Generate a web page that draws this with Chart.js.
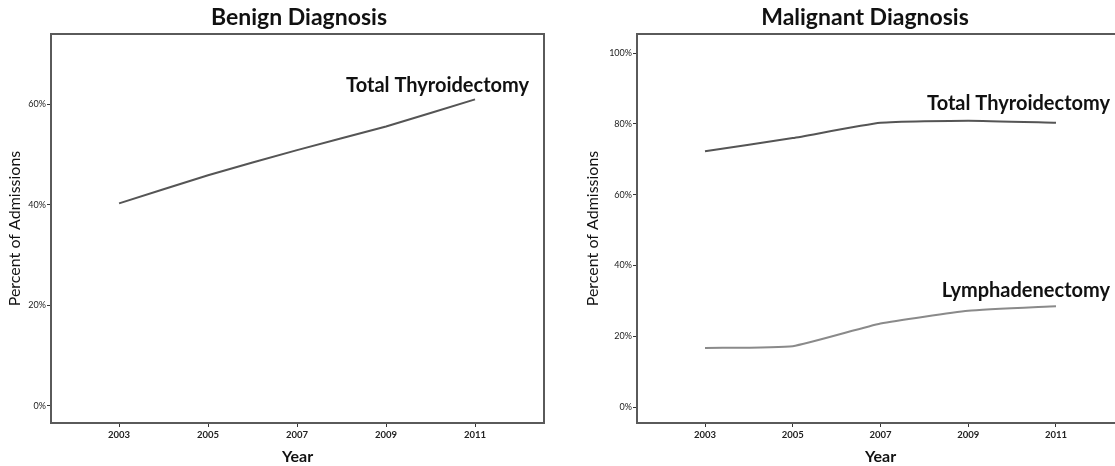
<!DOCTYPE html>
<html>
<head>
<meta charset="utf-8">
<script src="https://cdn.jsdelivr.net/npm/chart.js@4/dist/chart.umd.min.js"></script>
<style>
  html, body { margin: 0; padding: 0; background: #fff; overflow: hidden; width: 1115px; height: 466px; }
  .box { position: absolute; top: 0; height: 466px; }
  #left { left: 0; width: 560px; }
  #right { left: 560px; width: 580px; }
</style>
</head>
<body>
<div class="box" id="left"><canvas id="benign"></canvas></div>
<div class="box" id="right"><canvas id="malignant"></canvas></div>
<script>
// data
const years = [2003, 2005, 2007, 2009, 2011];
const benignTotal = [40.3, 45.9, 50.9, 55.6, 61.0];
const malignantTotal = [72.3, 76.0, 80.3, 80.9, 80.3];
const malignantLymph = [16.7, 17.2, 23.6, 27.2, 28.5];
const benignTicks = [0, 20, 40, 60];
const malignantTicks = [0, 20, 40, 60, 80, 100];

const FONT = 'Lato, "Open Sans", sans-serif';
const FRAME = '#5a5a5a';

// draws the chart heading, the frame and the end labels of each line
const decor = {
  id: 'decor',
  afterDraw(chart, args, opts) {
    const ctx = chart.ctx;
    const a = chart.chartArea;
    ctx.save();
    ctx.strokeStyle = FRAME;
    ctx.lineWidth = 2;
    ctx.beginPath();
    ctx.moveTo(a.left, a.top);
    ctx.lineTo(a.right, a.top);
    ctx.lineTo(a.right, a.bottom);
    ctx.stroke();

    ctx.fillStyle = '#111';
    ctx.font = 'bold 23px ' + FONT;
    ctx.textAlign = 'center';
    ctx.textBaseline = 'alphabetic';
    ctx.fillText(opts.title, opts.titleX, 25);

    ctx.font = 'bold 20px ' + FONT;
    ctx.textAlign = 'right';
    chart.data.datasets.forEach((ds, i) => {
      const meta = chart.getDatasetMeta(i);
      const last = meta.data[meta.data.length - 1];
      ctx.fillText(ds.label, last.x + 54, last.y - ds.labelLift);
    });
    ctx.restore();
  }
};

function makeChart(id, sets, yMin, yMax, yTicks, xMin, xMax, yWidth, titlePad, title, titleX) {
  return new Chart(document.getElementById(id), {
    type: 'line',
    data: {
      datasets: sets.map(s => ({
        label: s.label,
        data: years.map((y, i) => ({ x: y, y: s.values[i] })),
        borderColor: s.color,
        borderWidth: 2,
        pointRadius: 0,
        tension: 0.15,
        labelLift: s.lift
      }))
    },
    options: {
      responsive: true,
      maintainAspectRatio: false,
      animation: false,
      layout: { padding: { top: 34, right: 16, left: 0, bottom: 0 } },
      plugins: {
        legend: { display: false },
        tooltip: { enabled: false },
        decor: { title: title, titleX: titleX }
      },
      scales: {
        x: {
          type: 'linear',
          min: xMin,
          max: xMax,
          afterBuildTicks: s => { s.ticks = years.map(v => ({ value: v })); },
          afterFit: s => { s.height = 43; },
          grid: { drawOnChartArea: false, drawTicks: true, tickLength: 4, color: '#333', lineWidth: 1 },
          border: { display: true, color: FRAME, width: 2 },
          ticks: { color: '#222', font: { family: FONT, size: 9.5, weight: 'bold' }, padding: 2, maxRotation: 0,
                   callback: v => String(v) },
          title: { display: true, text: 'Year', color: '#111', font: { family: FONT, size: 16, weight: 'bold' },
                   padding: { top: 2, bottom: 0 } }
        },
        y: {
          min: yMin,
          max: yMax,
          afterBuildTicks: s => { s.ticks = yTicks.map(v => ({ value: v })); },
          afterFit: s => { s.width = yWidth; },
          grid: { drawOnChartArea: false, drawTicks: true, tickLength: 4, color: '#333', lineWidth: 1 },
          border: { display: true, color: FRAME, width: 2 },
          ticks: { color: '#222', font: { family: FONT, size: 9 }, padding: 1,
                   callback: v => v + '%' },
          title: { display: true, text: 'Percent of Admissions', color: '#111',
                   font: { family: FONT, size: 16 }, padding: { top: titlePad, bottom: 0 } }
        }
      }
    },
    plugins: [decor]
  });
}

makeChart('benign',
  [{ label: 'Total Thyroidectomy', values: benignTotal, color: '#555', lift: 7 }],
  -3.4, 74, benignTicks, 2001.47, 2012.55, 51, 5, 'Benign Diagnosis', 299);

makeChart('malignant',
  [{ label: 'Total Thyroidectomy', values: malignantTotal, color: '#555', lift: 13 },
   { label: 'Lymphadenectomy', values: malignantLymph, color: '#8a8a8a', lift: 9 }],
  -4.5, 105.4, malignantTicks, 2001.45, 2012.55, 77, 23, 'Malignant Diagnosis', 305);
</script>
</body>
</html>
